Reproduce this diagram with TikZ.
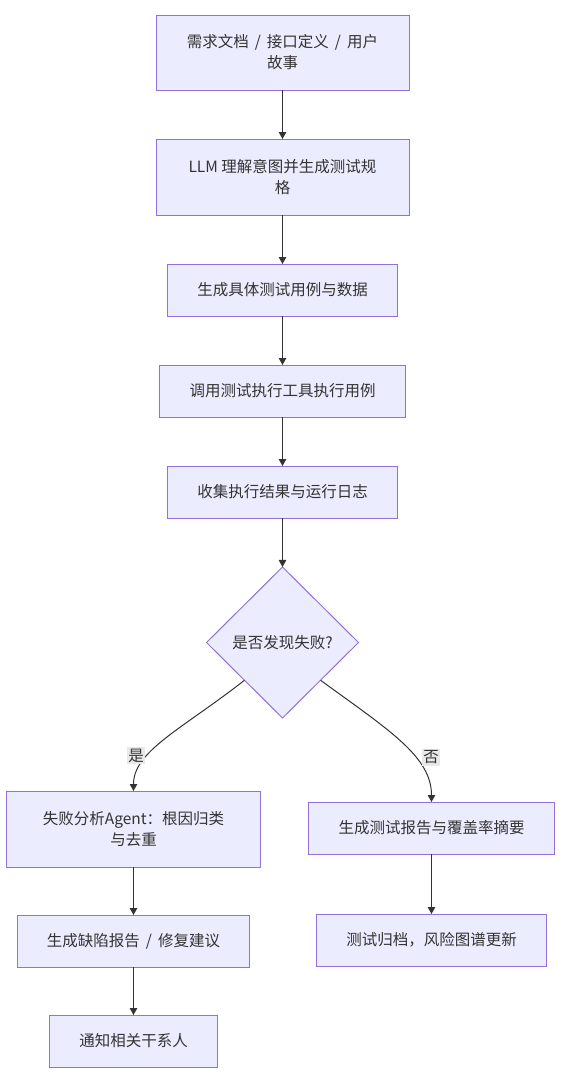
\documentclass[tikz,border=0pt]{standalone}
\usepackage{fontspec}
\newfontfamily\cjk{Noto Sans CJK SC}
\usepackage{tikz}
\usetikzlibrary{arrows.meta, positioning, shapes.geometric}
\definecolor{boxfill}{HTML}{ECECFF}
\definecolor{boxline}{HTML}{9370DB}
\definecolor{arrowline}{HTML}{333333}
\definecolor{labelfill}{HTML}{E8E8E8}
\newcommand{\orsep}{\hspace{6pt}/\hspace{6pt}}

\begin{document}
\begin{tikzpicture}[x=1pt, y=1pt, >={Triangle[length=7pt, width=7.5pt]},
		box/.style={draw=boxline, fill=boxfill, line width=1pt, outer sep=0pt, inner sep=0pt,
			minimum height=52pt, align=center, text=arrowline,
			font=\cjk\fontsize{15.5pt}{21pt}\selectfont},
		decision/.style={box, diamond, minimum width=152pt, minimum height=151pt},
		flow/.style={->, draw=arrowline, line width=1pt},
		answer/.style={fill=labelfill, inner sep=1.5pt, text=arrowline,
			font=\cjk\fontsize{15.5pt}{21pt}\selectfont}]

			\useasboundingbox (0,0) rectangle (562,-1084);

				\node [box, minimum width=253pt, minimum height=75pt]	(docs)	at (282.5,-52.5)	{需求文档\orsep 接口定义\orsep 用户\\故事};
				\node [box, minimum width=253pt, minimum height=76pt]	(spec)	[below = 49pt of docs]	{LLM 理解意图并生成测试规\\格};
				\node [box, minimum width=230pt]	(cases)		[below = 49pt of spec]		{生成具体测试用例与数据};
				\node [box, minimum width=246pt]	(run)		[below = 49pt of cases]		{调用测试执行工具执行用例};
				\node [box, minimum width=230pt]	(logs)		[below = 49pt of run]		{收集执行结果与运行日志};
				\node [decision]					(fail)		[below = 49pt of logs]		{是否发现失败?};

				\node [box, minimum width=254pt, minimum height=76pt]	(rca)	[below = 73pt of fail, xshift=-149pt]	{失败分析Agent：根因归类\\与去重};
				\node [box, minimum width=232pt]	(defect)	[below = 48pt of rca]		{生成缺陷报告\orsep 修复建议};
				\node [box, minimum width=168pt]	(notify)	[below = 48pt of defect]	{通知相关干系人};

				\node [box, minimum width=246pt]	(report)	[below = 84pt of fail, xshift=149pt]	{生成测试报告与覆盖率摘要};
				\node [box, minimum width=230pt]	(archive)	[below = 60pt of report]	{测试归档，风险图谱更新};

				\path	(docs)	edge [flow]	(spec)
						(spec)		edge [flow]	(cases)
						(cases)		edge [flow]	(run)
						(run)		edge [flow]	(logs)
						(logs)		edge [flow]	(fail)

						(fail.south west)	edge [flow, out=218, in=90, out looseness=1.3, in looseness=0.65]
									node [answer, pos=0.67, xshift=-12pt] {是}	(rca)
						(fail.south east)	edge [flow, out=324, in=90, out looseness=1.33, in looseness=0.7]
									node [answer, pos=0.63, xshift=16pt] {否}	(report)

						(rca)		edge [flow]	(defect)
						(defect)	edge [flow]	(notify)
						(report)	edge [flow]	(archive)
				;

\end{tikzpicture}
\end{document}
